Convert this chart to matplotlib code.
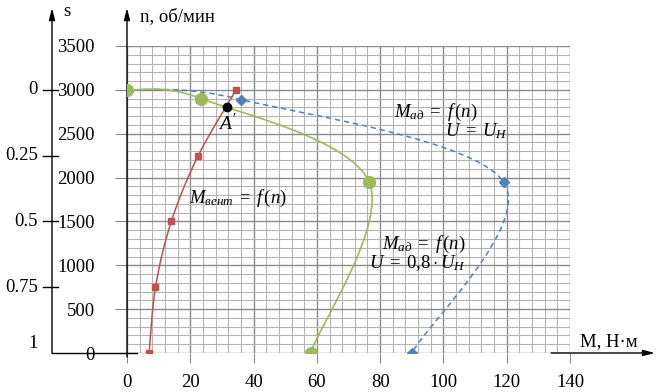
import numpy as np
import matplotlib
matplotlib.use("Agg")
import matplotlib.pyplot as plt
from matplotlib.path import Path
from matplotlib.patches import PathPatch

plt.rcParams['font.family'] = 'Liberation Serif'
plt.rcParams['mathtext.fontset'] = 'custom'
plt.rcParams['mathtext.rm'] = 'Liberation Serif'
plt.rcParams['mathtext.it'] = 'Liberation Serif:italic'

# fan load torque M_вент = f(n)
m_fan = [7, 9, 14, 22.5, 34.5]
n_fan = [0, 750, 1500, 2250, 3000]
# motor torque at U = 0.8 U_н
m_low = [0, 23.5, 76.5, 58]
n_low = [3000, 2900, 1950, 0]
# motor torque at U = U_н
m_nom = [0, 36, 119, 90]
n_nom = [3000, 2890, 1950, 0]
# operating point A'
m_a = [31.5]
n_a = [2800]

n_sync = 3000
s_vals = [0, 0.25, 0.5, 0.75, 1]
s_labels = ["0", "0.25", "0.5", "0.75", "1"]

RED = '#C0504D'
GREEN = '#9BBB59'
BLUE = '#4F81BD'
FS = 13.5


def smooth_path(x, y):
    # excel-like smoothed line: cubic bezier through the points
    p = np.column_stack([x, y]).astype(float)
    ext = np.vstack([p[0], p, p[-1]])
    verts = [p[0]]
    codes = [Path.MOVETO]
    for i in range(len(p) - 1):
        a, b, c, d = ext[i], ext[i + 1], ext[i + 2], ext[i + 3]
        verts += [b + (c - a) / 6, c - (d - b) / 6, c]
        codes += [Path.CURVE4] * 3
    return Path(verts, codes)


fig = plt.figure(figsize=(6.58, 3.92), dpi=100)
W, H = 658, 392
ax = fig.add_axes([127 / W, 1 - 353 / H, 443 / W, 307 / H])
ax.set_xlim(0, 140)
ax.set_ylim(0, 3500)
ax.set_xticks(np.arange(0, 141, 20))
ax.set_xticks(np.arange(0, 141, 4), minor=True)
ax.set_yticks(np.arange(0, 3501, 500))
ax.set_yticks(np.arange(0, 3501, 100), minor=True)
ax.grid(which='minor', color='#b4b4b4', lw=0.8)
ax.grid(which='major', color='#8a8a8a', lw=1.0)
ax.set_axisbelow(True)
for sp in ax.spines.values():
    sp.set_visible(False)
ax.tick_params(which='minor', length=0)
ax.tick_params(axis='x', which='major', length=7, color='#8a8a8a', pad=8, labelsize=FS)
ax.tick_params(axis='y', which='major', length=9, color='#8a8a8a', pad=14, labelsize=FS)

# curves
ax.add_patch(PathPatch(smooth_path(m_nom, n_nom), fill=False, ec=BLUE, lw=1.1,
                       ls=(0, (3.5, 2.5)), zorder=3))
ax.plot(m_nom, n_nom, ls='none', marker='D', ms=5.5, color=BLUE, zorder=4)
ax.add_patch(PathPatch(smooth_path(m_low, n_low), fill=False, ec=GREEN, lw=1.2, zorder=5))
ax.plot(m_low, n_low, ls='none', marker='o', ms=8.5, color=GREEN, zorder=6)
ax.add_patch(PathPatch(smooth_path(m_fan, n_fan), fill=False, ec=RED, lw=1.1, zorder=7))
ax.plot(m_fan, n_fan, ls='none', marker='s', ms=5, color=RED, zorder=8)
ax.plot(m_a, n_a, ls='none', marker='o', ms=6, color='black', zorder=9)

# labels on the plot
ax.text(31.6, 2620, "$A'$", fontsize=FS + 0.5, ha='center', va='center', zorder=10)
ax.text(19.7, 1761, r'$M_{вент}\;=\;f\,(n)$', fontsize=FS, va='center')
ax.text(84.5, 2739, r'$M_{ад}\;=\;f\,(n)$', fontsize=FS, va='center')
ax.text(100.5, 2534, r'$U\;=\;U_{Н}$', fontsize=FS, va='center')
ax.text(80.5, 1239, r'$M_{ад}\;=\;f\,(n)$', fontsize=FS, va='center')
ax.text(76.5, 1023, r'$U\;=\;0{,}8\cdot U_{Н}$', fontsize=FS, va='center')

# axes drawn by hand (pixel coords, origin bottom-left)
arrow = dict(arrowstyle='-|>,head_length=0.7,head_width=0.18', color='black', lw=1.0,
             shrinkA=0, shrinkB=0)
y0 = H - 353
ax.annotate('', xy=(127, H - 8), xytext=(127, y0 - 4), xycoords='figure pixels',
            textcoords='figure pixels', arrowprops=arrow, annotation_clip=False)
ax.annotate('', xy=(52, H - 8), xytext=(52, y0), xycoords='figure pixels',
            textcoords='figure pixels', arrowprops=arrow, annotation_clip=False)
ax.annotate('', xy=(655, y0), xytext=(551, y0), xycoords='figure pixels',
            textcoords='figure pixels', arrowprops=arrow, annotation_clip=False)
fig.add_artist(plt.Line2D([52 / W, 137 / W], [y0 / H, y0 / H], color='black', lw=1.0))

# slip scale on the left
for s, lab in zip(s_vals, s_labels):
    yp = ax.transData.transform((0, n_sync * (1 - s)))[1]
    if s < 1:
        fig.add_artist(plt.Line2D([43 / W, 58 / W], [yp / H, yp / H], color='black', lw=1.0))
    else:
        yp += 10
    fig.text(38 / W, yp / H, lab, ha='right', va='center', fontsize=FS)

fig.text(67 / W, (H - 12) / H, 's', ha='center', va='center', fontsize=FS)
fig.text(140 / W, (H - 17) / H, 'n, об/мин', ha='left', va='center', fontsize=FS)
fig.text(580 / W, (H - 342) / H, 'M, Н·м', ha='left', va='center', fontsize=FS)

plt.savefig("out.png", dpi=100)
